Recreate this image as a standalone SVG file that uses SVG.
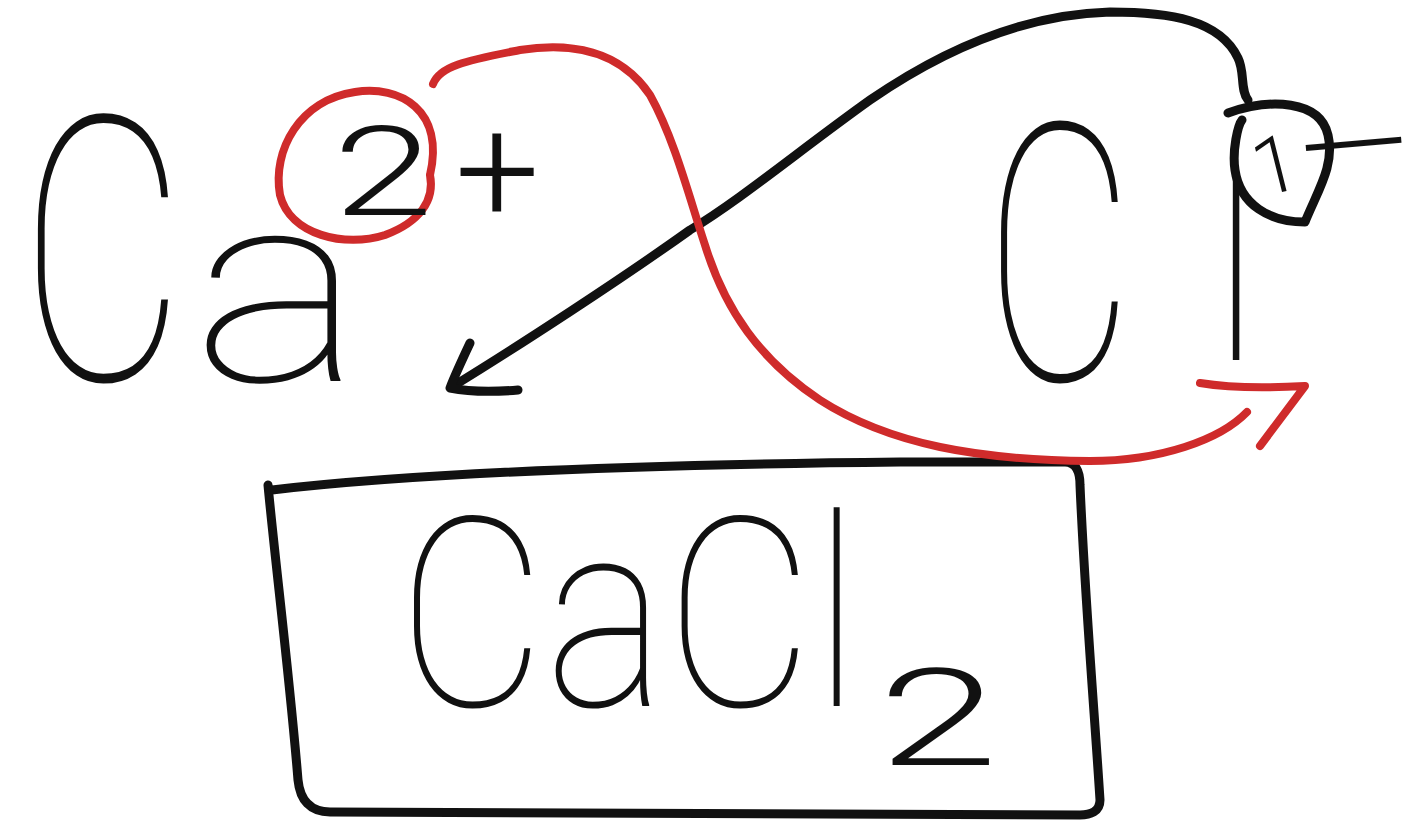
<svg xmlns="http://www.w3.org/2000/svg" width="1419" height="822" viewBox="0 0 1419 822">
<style>
.t{font-family:Roboto,Lato,Inter,"Liberation Sans",sans-serif;font-weight:100;fill:#111}
.s{font-weight:300}
.ink{fill:none;stroke:#111;stroke-width:9;stroke-linecap:round;stroke-linejoin:round}
.red{fill:none;stroke:#cf2b2b;stroke-width:8;stroke-linecap:round;stroke-linejoin:round}
</style>
<rect width="1419" height="822" fill="#fff"/>
<g id="ca-ion">
<text class="t" y="380"><tspan x="20" font-size="370" textLength="165" lengthAdjust="spacingAndGlyphs">C</tspan><tspan x="192" y="381" font-size="270" textLength="172" lengthAdjust="spacingAndGlyphs">a</tspan></text>
<path class="red" d="M430,175 C445,110 400,85 355,92 C300,100 272,150 280,195 C290,235 345,248 385,235 C420,222 435,200 430,175"/>
<text class="t s" y="215"><tspan x="333" font-size="125" textLength="100" lengthAdjust="spacingAndGlyphs">2</tspan><tspan x="455" y="222" font-size="150">+</tspan></text>
</g>
<g id="cl-ion">
<text class="t" y="380"><tspan x="985" font-size="360" textLength="148" lengthAdjust="spacingAndGlyphs">C</tspan><tspan x="1236" y="360" font-size="247" text-anchor="middle">l</tspan></text>
<path class="ink" d="M1228,113 C1270,98 1320,100 1328,135 C1335,165 1318,190 1305,222 C1270,222 1240,205 1235,170 C1232,150 1238,125 1242,120"/>
<text class="t s" x="1275" y="193" font-size="80" text-anchor="middle" transform="rotate(-14 1275 165)">1</text>
<text class="t s" x="1287" y="193" font-size="120" textLength="134" lengthAdjust="spacingAndGlyphs" transform="rotate(-5 1287 150)">−</text>
</g>
<g id="cacl2">
<path class="ink" d="M272,490 C400,475 600,465 900,462 L1065,462 C1075,462 1080,470 1080,485 C1085,600 1095,720 1100,800 C1100,812 1090,815 1080,815 L330,812 C310,812 300,800 298,780 C290,680 275,560 268,485"/>
<text class="t" y="706"><tspan x="398" font-size="265" textLength="462" lengthAdjust="spacingAndGlyphs">CaCl</tspan><tspan class="s" x="878" y="765" font-size="135" textLength="120" lengthAdjust="spacingAndGlyphs">2</tspan></text>
</g>
<g id="connectors">
<path class="ink" d="M1248,100 C1240,90 1245,72 1238,58 C1220,20 1170,12 1110,12 C1030,14 950,45 870,100 C800,150 740,200 690,230 C620,280 520,345 455,385"/>
<path class="ink" d="M470,343 C462,360 455,375 450,388 C470,392 495,392 518,390"/>
<path class="red" d="M433,84 C440,65 470,60 520,50 C570,42 620,50 650,95 C675,140 690,200 705,245 C725,310 760,360 820,400 C890,445 980,460 1090,461 C1160,461 1220,440 1247,412"/>
<path class="red" d="M1200,383 C1230,388 1270,388 1305,386 L1260,446"/>
</g>
</svg>
